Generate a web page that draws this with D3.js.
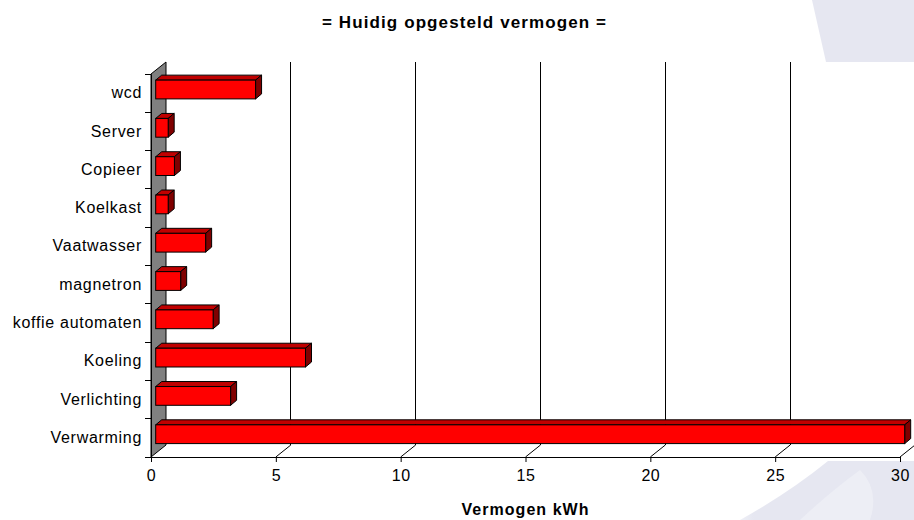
<!DOCTYPE html>
<html>
<head>
<meta charset="utf-8">
<script src="https://cdn.jsdelivr.net/npm/d3@7"></script>
<style>
  html, body { margin: 0; padding: 0; background: #ffffff; }
  svg { display: block; font-family: Arial, "Liberation Sans", sans-serif; }
</style>
</head>
<body>
<svg id="chart" width="914" height="520"></svg>
<script>
// ---- data (top to bottom as drawn) ----
const categories = ["wcd", "Server", "Copieer", "Koelkast", "Vaatwasser", "magnetron",
                    "koffie automaten", "Koeling", "Verlichting", "Verwarming"];
const values = [4, 0.5, 0.75, 0.5, 2, 1, 2.3, 6, 3, 30];
const xTicks = [0, 5, 10, 15, 20, 25, 30];
const titleText = "= Huidig opgesteld vermogen =";
const xAxisTitle = "Vermogen kWh";

(function () {
const svg = d3.select("#chart");
const W = 914, H = 520;

// layout
const pLeft = 151, pRight = 900, pTop = 74, pBottom = 457;
const depthX = 15, depthY = 12;       // wall / floor depth
const barDX = 6, barDY = 5;           // bar depth
const barShift = 4.7;                 // bar front offset into the depth

const x = d3.scaleLinear().domain([0, 30]).range([pLeft, pRight]);
const y = d3.scaleBand().domain(categories).range([pTop, pBottom]).padding(0);

// ---- background decoration ----
svg.append("rect").attr("width", W).attr("height", H).attr("fill", "#ffffff");
const bgDefs = svg.append("defs");
const grad = bgDefs.append("linearGradient").attr("id", "lav").attr("x1", "0").attr("y1", "0").attr("x2", "1").attr("y2", "0");
grad.append("stop").attr("offset", "0").attr("stop-color", "#eeeff6");
grad.append("stop").attr("offset", "0.08").attr("stop-color", "#e6e7f1");
grad.append("stop").attr("offset", "1").attr("stop-color", "#e6e7f1");
svg.append("path")
  .attr("d", "M812,0 L914,0 L914,520 L740,520 Q790,492 828,461 L826,62 Z")
  .attr("fill", "url(#lav)");
svg.append("path")
  .attr("d", "M800,520 Q830,492 860,470 Q880,490 870,520 Z")
  .attr("fill", "#eff0f6").attr("opacity", 0.8);

// plot area (white)
svg.append("rect").attr("x", 0).attr("y", 62).attr("width", W).attr("height", 399).attr("fill", "#ffffff");

// ---- back wall gridlines ----
svg.append("g").selectAll("line").data(xTicks.filter(d => d > 0)).join("line")
  .attr("x1", d => x(d) + depthX).attr("x2", d => x(d) + depthX)
  .attr("y1", pTop - depthY).attr("y2", pBottom - depthY)
  .attr("stroke", "#000").attr("stroke-width", 1).attr("shape-rendering", "crispEdges");

// floor diagonals
svg.append("g").selectAll("line").data(xTicks.filter(d => d > 0)).join("line")
  .attr("x1", d => x(d)).attr("y1", pBottom)
  .attr("x2", d => x(d) + depthX).attr("y2", pBottom - depthY)
  .attr("stroke", "#000").attr("stroke-width", 1);

// ---- side wall (grey) ----
svg.append("path")
  .attr("d", `M${pLeft},${pTop} L${pLeft + depthX},${pTop - depthY} L${pLeft + depthX},${pBottom - depthY} L${pLeft},${pBottom} Z`)
  .attr("fill", "#808080").attr("stroke", "#000").attr("stroke-width", 1);

// ---- bars ----
const bw = y.bandwidth();
const bars = svg.append("g").selectAll("g").data(categories.map((c, i) => ({ c, v: values[i] }))).join("g");
bars.each(function (d) {
  const g = d3.select(this);
  const x0 = x(0) + barShift;
  const x1 = x0 + (x(d.v) - x(0));
  const y0 = y(d.c) + bw * 0.16;
  const y1 = y(d.c) + bw * 0.65;
  g.append("path")
    .attr("d", `M${x0},${y0} L${x0 + barDX},${y0 - barDY} L${x1 + barDX},${y0 - barDY} L${x1},${y0} Z`)
    .attr("fill", "#c00000").attr("stroke", "#000").attr("stroke-width", 1).attr("stroke-linejoin", "round");
  g.append("path")
    .attr("d", `M${x1},${y0} L${x1 + barDX},${y0 - barDY} L${x1 + barDX},${y1 - barDY} L${x1},${y1} Z`)
    .attr("fill", "#800000").attr("stroke", "#000").attr("stroke-width", 1).attr("stroke-linejoin", "round");
  g.append("rect")
    .attr("x", x0).attr("y", y0).attr("width", x1 - x0).attr("height", y1 - y0)
    .attr("fill", "#ff0000").attr("stroke", "#000").attr("stroke-width", 1);
});

// ---- axes ----
const xAxis = svg.append("g").attr("transform", `translate(0,${pBottom})`)
  .call(d3.axisBottom(x).tickValues(xTicks).tickSize(5).tickPadding(8).tickFormat(d3.format("d")));
xAxis.select(".domain").attr("stroke", "#000");
xAxis.selectAll(".tick line").attr("stroke", "#000");
xAxis.selectAll(".tick text").attr("font-size", 16).attr("letter-spacing", "0.5px")
  .attr("font-family", "Arial, 'Liberation Sans', sans-serif").attr("fill", "#000");

const yAxis = svg.append("g").attr("transform", `translate(${pLeft},0)`)
  .call(d3.axisLeft(y).tickSize(0).tickPadding(9));
yAxis.select(".domain").attr("stroke", "#000");
yAxis.selectAll(".tick text").attr("font-size", 16).attr("letter-spacing", "0.7px")
  .attr("font-family", "Arial, 'Liberation Sans', sans-serif").attr("fill", "#000");

const bounds = categories.map(c => y(c)).concat([pBottom]);
svg.append("g").selectAll("line").data(bounds).join("line")
  .attr("x1", pLeft - 6).attr("x2", pLeft).attr("y1", d => d).attr("y2", d => d)
  .attr("stroke", "#000").attr("shape-rendering", "crispEdges");

// ---- titles ----
svg.append("text").attr("x", 464).attr("y", 28).attr("text-anchor", "middle")
  .attr("font-size", 17).attr("font-weight", "bold").attr("textLength", 284).attr("lengthAdjust", "spacing")
  .text(titleText);
svg.append("text").attr("x", 525).attr("y", 515).attr("text-anchor", "middle")
  .attr("font-size", 16).attr("font-weight", "bold").attr("textLength", 127).attr("lengthAdjust", "spacing")
  .text(xAxisTitle);
})();
</script>
</body>
</html>
